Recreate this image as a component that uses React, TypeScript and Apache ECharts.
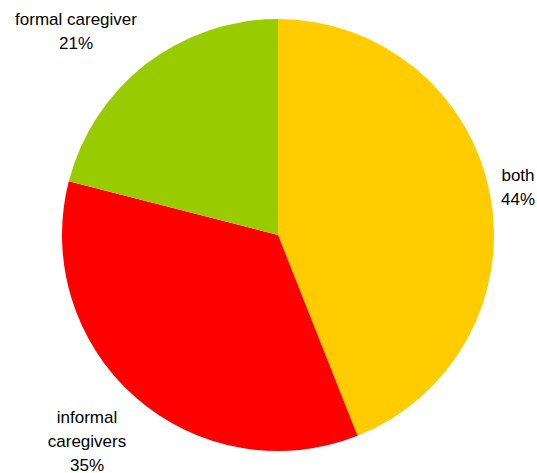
import React, { useEffect, useRef } from "react";
import * as echarts from "echarts";

const categories = ["both", "informal caregivers", "formal caregiver"];
const labelTexts = ["both", "informal\ncaregivers", "formal caregiver"];
const values = [44, 35, 21];
const colors = ["#FFCC00", "#FF0000", "#99CC00"];
const labelPos = [
  [518, 187],
  [87, 441],
  [76, 31],
];

export default function App() {
  const ref = useRef<HTMLDivElement>(null);
  useEffect(() => {
    document.body.style.margin = "0";
    const chart = echarts.init(ref.current!, null, { renderer: "svg" });
    const total = values.reduce((a, b) => a + b, 0);
    chart.setOption({
      animation: false,
      backgroundColor: "#ffffff",
      series: [
        {
          type: "pie",
          center: [278, 235],
          radius: 216,
          startAngle: 90,
          clockwise: true,
          data: categories.map((c, i) => ({
            name: c,
            value: values[i],
            itemStyle: { color: colors[i] },
          })),
          label: { show: false },
          labelLine: { show: false },
          emphasis: { disabled: true },
        },
      ],
      graphic: categories.map((c, i) => ({
        type: "text",
        x: labelPos[i][0],
        y: labelPos[i][1],
        silent: true,
        style: {
          text: `${labelTexts[i]}\n${Math.round((values[i] / total) * 100)}%`,
          fontFamily: "Liberation Sans, Arial, sans-serif",
          fontSize: 17,
          lineHeight: 24,
          fill: "#000000",
          textAlign: "center",
          textVerticalAlign: "middle",
        },
      })),
    });
    return () => chart.dispose();
  }, []);
  return (
    <div
      ref={ref}
      style={{ position: "absolute", left: 0, top: 0, width: 537, height: 473 }}
    />
  );
}
